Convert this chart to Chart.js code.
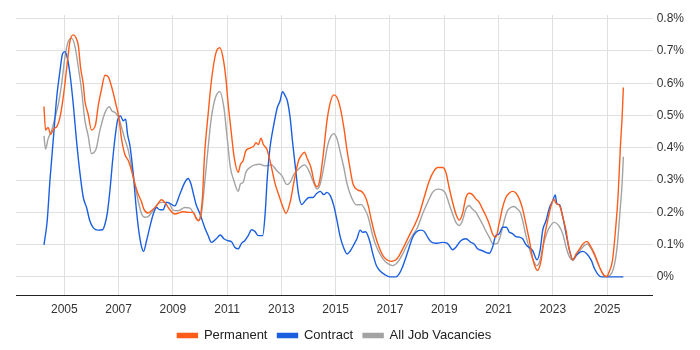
<!DOCTYPE html>
<html lang="en">

<head>
    <meta charset="UTF-8">
    <script src="https://cdn.jsdelivr.net/npm/chart.js@4.4.1/dist/chart.umd.min.js"></script>
    <title>Job Vacancies</title>
    <style>
        body { margin: 0; background: #fff; }
        #wrap { width: 700px; height: 350px; }
    </style>
</head>

<body>
    <div id="wrap"><canvas id="myChart"></canvas></div>
</body>

<script type='text/javascript'>

    // decimal year dates and share of vacancies (%) for each series
    const permDates = [2004.25, 2004.31, 2004.4, 2004.5, 2004.6, 2004.74, 2004.84, 2004.96, 2005.09, 2005.21, 2005.33, 2005.43, 2005.52, 2005.6, 2005.7, 2005.76, 2005.88, 2006.0, 2006.15, 2006.25, 2006.37, 2006.5, 2006.62, 2006.8, 2006.9, 2007.0, 2007.11, 2007.23, 2007.36, 2007.48, 2007.6, 2007.72, 2007.85, 2007.93, 2008.09, 2008.21, 2008.4, 2008.58, 2008.7, 2008.89, 2009.07, 2009.38, 2009.56, 2009.75, 2009.87, 2009.95, 2010.01, 2010.09, 2010.17, 2010.3, 2010.42, 2010.58, 2010.73, 2010.85, 2010.95, 2011.04, 2011.16, 2011.26, 2011.41, 2011.49, 2011.59, 2011.69, 2011.84, 2011.99, 2012.06, 2012.15, 2012.25, 2012.33, 2012.46, 2012.58, 2012.77, 2012.89, 2013.04, 2013.17, 2013.32, 2013.47, 2013.63, 2013.75, 2013.85, 2013.96, 2014.09, 2014.21, 2014.31, 2014.41, 2014.53, 2014.68, 2014.8, 2014.93, 2015.05, 2015.17, 2015.3, 2015.42, 2015.52, 2015.64, 2015.82, 2015.95, 2016.07, 2016.2, 2016.32, 2016.44, 2016.6, 2016.74, 2016.87, 2017.04, 2017.22, 2017.34, 2017.53, 2017.71, 2017.9, 2018.08, 2018.26, 2018.45, 2018.63, 2018.75, 2018.94, 2019.06, 2019.18, 2019.31, 2019.43, 2019.55, 2019.67, 2019.8, 2019.92, 2020.04, 2020.17, 2020.29, 2020.41, 2020.53, 2020.66, 2020.78, 2020.9, 2021.02, 2021.15, 2021.27, 2021.4, 2021.52, 2021.64, 2021.77, 2021.89, 2022.01, 2022.14, 2022.26, 2022.38, 2022.44, 2022.57, 2022.69, 2022.81, 2022.94, 2023.04, 2023.12, 2023.25, 2023.37, 2023.49, 2023.59, 2023.74, 2023.86, 2023.99, 2024.11, 2024.26, 2024.38, 2024.51, 2024.63, 2024.75, 2024.89, 2024.98, 2025.07, 2025.2, 2025.32, 2025.41, 2025.49, 2025.56, 2025.6]
    const permValues = [0.528, 0.455, 0.463, 0.442, 0.458, 0.468, 0.494, 0.556, 0.648, 0.731, 0.75, 0.741, 0.715, 0.648, 0.597, 0.545, 0.504, 0.455, 0.471, 0.53, 0.581, 0.625, 0.62, 0.571, 0.535, 0.499, 0.427, 0.38, 0.36, 0.329, 0.288, 0.257, 0.231, 0.21, 0.198, 0.205, 0.22, 0.239, 0.231, 0.208, 0.195, 0.202, 0.2, 0.2, 0.179, 0.174, 0.185, 0.246, 0.38, 0.504, 0.607, 0.692, 0.71, 0.679, 0.618, 0.535, 0.442, 0.37, 0.324, 0.349, 0.36, 0.391, 0.399, 0.406, 0.416, 0.41, 0.43, 0.411, 0.396, 0.36, 0.288, 0.257, 0.22, 0.197, 0.231, 0.298, 0.36, 0.378, 0.386, 0.365, 0.339, 0.293, 0.279, 0.298, 0.37, 0.484, 0.54, 0.564, 0.556, 0.523, 0.463, 0.391, 0.34, 0.288, 0.269, 0.265, 0.252, 0.221, 0.174, 0.133, 0.092, 0.066, 0.054, 0.048, 0.053, 0.066, 0.097, 0.128, 0.159, 0.195, 0.246, 0.298, 0.329, 0.339, 0.339, 0.324, 0.277, 0.231, 0.195, 0.176, 0.195, 0.246, 0.259, 0.255, 0.241, 0.231, 0.21, 0.19, 0.164, 0.133, 0.123, 0.164, 0.215, 0.246, 0.26, 0.265, 0.26, 0.241, 0.21, 0.164, 0.112, 0.056, 0.025, 0.02, 0.051, 0.123, 0.174, 0.221, 0.241, 0.228, 0.221, 0.185, 0.143, 0.092, 0.053, 0.071, 0.087, 0.102, 0.11, 0.097, 0.076, 0.051, 0.025, 0.004, 0.001, 0.014, 0.051, 0.154, 0.257, 0.401, 0.504, 0.587]

    const contractDates = [2004.25, 2004.37, 2004.47, 2004.6, 2004.72, 2004.84, 2004.93, 2005.02, 2005.11, 2005.21, 2005.33, 2005.45, 2005.58, 2005.7, 2005.82, 2005.94, 2006.07, 2006.25, 2006.41, 2006.5, 2006.58, 2006.68, 2006.78, 2006.87, 2006.96, 2007.07, 2007.17, 2007.26, 2007.33, 2007.42, 2007.54, 2007.66, 2007.76, 2007.85, 2007.92, 2008.03, 2008.15, 2008.28, 2008.4, 2008.52, 2008.64, 2008.77, 2008.89, 2009.07, 2009.26, 2009.44, 2009.56, 2009.66, 2009.75, 2009.85, 2010.0, 2010.17, 2010.3, 2010.42, 2010.6, 2010.75, 2010.88, 2011.04, 2011.16, 2011.28, 2011.41, 2011.53, 2011.65, 2011.78, 2011.9, 2012.02, 2012.15, 2012.31, 2012.4, 2012.48, 2012.58, 2012.7, 2012.85, 2012.95, 2013.04, 2013.14, 2013.22, 2013.32, 2013.42, 2013.53, 2013.63, 2013.75, 2013.88, 2014.02, 2014.16, 2014.28, 2014.43, 2014.56, 2014.68, 2014.8, 2014.93, 2015.05, 2015.17, 2015.3, 2015.42, 2015.54, 2015.67, 2015.79, 2015.9, 2016.0, 2016.1, 2016.25, 2016.37, 2016.5, 2016.62, 2016.81, 2016.99, 2017.22, 2017.34, 2017.47, 2017.59, 2017.71, 2017.83, 2017.96, 2018.14, 2018.26, 2018.39, 2018.51, 2018.69, 2018.94, 2019.12, 2019.31, 2019.43, 2019.61, 2019.8, 2019.98, 2020.1, 2020.23, 2020.41, 2020.66, 2020.78, 2020.9, 2021.02, 2021.15, 2021.29, 2021.4, 2021.5, 2021.64, 2021.77, 2021.89, 2022.01, 2022.14, 2022.26, 2022.42, 2022.53, 2022.63, 2022.75, 2022.88, 2023.0, 2023.09, 2023.15, 2023.25, 2023.37, 2023.49, 2023.62, 2023.74, 2023.86, 2023.99, 2024.11, 2024.26, 2024.42, 2024.54, 2024.67, 2024.79, 2025.0, 2025.3, 2025.6]
    const contractValues = [0.099, 0.174, 0.298, 0.432, 0.556, 0.638, 0.69, 0.698, 0.679, 0.628, 0.535, 0.422, 0.319, 0.246, 0.215, 0.174, 0.152, 0.145, 0.146, 0.164, 0.195, 0.267, 0.36, 0.432, 0.484, 0.499, 0.484, 0.489, 0.442, 0.406, 0.319, 0.205, 0.133, 0.092, 0.079, 0.112, 0.154, 0.195, 0.215, 0.208, 0.208, 0.231, 0.228, 0.22, 0.257, 0.293, 0.305, 0.29, 0.26, 0.226, 0.195, 0.154, 0.128, 0.107, 0.118, 0.13, 0.118, 0.112, 0.109, 0.092, 0.087, 0.104, 0.112, 0.128, 0.146, 0.141, 0.128, 0.128, 0.195, 0.308, 0.401, 0.463, 0.525, 0.545, 0.574, 0.561, 0.545, 0.494, 0.411, 0.329, 0.257, 0.224, 0.236, 0.246, 0.246, 0.257, 0.265, 0.255, 0.262, 0.252, 0.221, 0.174, 0.123, 0.089, 0.071, 0.081, 0.1, 0.12, 0.145, 0.138, 0.14, 0.112, 0.071, 0.035, 0.02, 0.007, 0, 0, 0.009, 0.032, 0.061, 0.092, 0.121, 0.138, 0.145, 0.141, 0.123, 0.109, 0.104, 0.107, 0.104, 0.084, 0.092, 0.112, 0.118, 0.107, 0.102, 0.087, 0.081, 0.073, 0.092, 0.128, 0.133, 0.154, 0.154, 0.138, 0.135, 0.125, 0.123, 0.118, 0.1, 0.09, 0.081, 0.053, 0.081, 0.145, 0.174, 0.215, 0.236, 0.254, 0.226, 0.224, 0.185, 0.133, 0.081, 0.053, 0.066, 0.076, 0.079, 0.071, 0.051, 0.025, 0.007, 0, 0, 0, 0]

    const allDates = [2004.25, 2004.31, 2004.4, 2004.53, 2004.66, 2004.78, 2004.9, 2005.02, 2005.15, 2005.27, 2005.39, 2005.52, 2005.64, 2005.76, 2005.88, 2006.0, 2006.17, 2006.31, 2006.5, 2006.66, 2006.75, 2006.87, 2007.0, 2007.11, 2007.23, 2007.36, 2007.48, 2007.6, 2007.72, 2007.85, 2007.97, 2008.09, 2008.28, 2008.46, 2008.64, 2008.83, 2009.01, 2009.2, 2009.44, 2009.63, 2009.81, 2009.95, 2010.05, 2010.17, 2010.3, 2010.42, 2010.58, 2010.73, 2010.88, 2011.0, 2011.12, 2011.25, 2011.41, 2011.49, 2011.59, 2011.69, 2011.84, 2012.02, 2012.21, 2012.4, 2012.64, 2012.83, 2013.02, 2013.2, 2013.32, 2013.47, 2013.63, 2013.85, 2014.0, 2014.16, 2014.31, 2014.43, 2014.56, 2014.7, 2014.83, 2014.93, 2015.05, 2015.17, 2015.3, 2015.42, 2015.52, 2015.64, 2015.76, 2015.95, 2016.07, 2016.2, 2016.32, 2016.44, 2016.6, 2016.74, 2016.91, 2017.1, 2017.28, 2017.47, 2017.65, 2017.83, 2018.02, 2018.2, 2018.39, 2018.57, 2018.75, 2018.94, 2019.06, 2019.18, 2019.31, 2019.43, 2019.55, 2019.67, 2019.8, 2019.92, 2020.04, 2020.17, 2020.29, 2020.41, 2020.53, 2020.66, 2020.8, 2020.96, 2021.09, 2021.21, 2021.33, 2021.45, 2021.57, 2021.7, 2021.8, 2021.89, 2022.01, 2022.14, 2022.26, 2022.41, 2022.53, 2022.63, 2022.75, 2022.88, 2023.06, 2023.22, 2023.37, 2023.49, 2023.62, 2023.74, 2023.86, 2024.05, 2024.26, 2024.42, 2024.54, 2024.67, 2024.85, 2024.98, 2025.1, 2025.25, 2025.37, 2025.47, 2025.56, 2025.6]
    const allValues = [0.437, 0.396, 0.427, 0.453, 0.494, 0.535, 0.597, 0.679, 0.731, 0.739, 0.715, 0.648, 0.576, 0.484, 0.437, 0.382, 0.396, 0.453, 0.509, 0.527, 0.515, 0.509, 0.494, 0.463, 0.427, 0.391, 0.339, 0.288, 0.236, 0.195, 0.185, 0.187, 0.207, 0.228, 0.231, 0.231, 0.207, 0.205, 0.215, 0.213, 0.19, 0.176, 0.195, 0.288, 0.401, 0.494, 0.558, 0.574, 0.525, 0.432, 0.339, 0.298, 0.265, 0.288, 0.293, 0.324, 0.339, 0.347, 0.349, 0.344, 0.347, 0.329, 0.313, 0.286, 0.293, 0.319, 0.334, 0.347, 0.331, 0.298, 0.272, 0.288, 0.339, 0.406, 0.437, 0.444, 0.427, 0.386, 0.339, 0.288, 0.26, 0.236, 0.223, 0.224, 0.21, 0.185, 0.143, 0.107, 0.076, 0.056, 0.042, 0.035, 0.045, 0.071, 0.102, 0.128, 0.154, 0.195, 0.231, 0.262, 0.272, 0.269, 0.257, 0.226, 0.195, 0.169, 0.159, 0.174, 0.21, 0.221, 0.21, 0.2, 0.182, 0.164, 0.143, 0.123, 0.102, 0.104, 0.133, 0.174, 0.205, 0.215, 0.218, 0.21, 0.2, 0.174, 0.128, 0.087, 0.056, 0.035, 0.051, 0.092, 0.128, 0.154, 0.169, 0.159, 0.133, 0.092, 0.061, 0.051, 0.066, 0.087, 0.102, 0.087, 0.066, 0.04, 0.009, 0.001, 0.004, 0.03, 0.092, 0.195, 0.298, 0.372]

    const yearTicks = [2005, 2007, 2009, 2011, 2013, 2015, 2017, 2019, 2021, 2023, 2025]
    const pctTicks = [0, 0.1, 0.2, 0.3, 0.4, 0.5, 0.6, 0.7, 0.8]

    const toPoints = (xs, ys) => xs.map((x, i) => ({ x: x, y: ys[i] }))

    Chart.defaults.font.family = "'Liberation Sans', Arial, sans-serif"
    Chart.defaults.color = '#333'

    const line = (label, color, pts) => ({
        label: label,
        data: pts,
        borderColor: color,
        backgroundColor: color,
        borderWidth: 1.4,
        pointRadius: 0,
        cubicInterpolationMode: 'monotone'
    })

    var ctx = document.getElementById('myChart').getContext('2d');
    var chart = new Chart(ctx, {
        type: 'line',
        data: {
            datasets: [
                line('Permanent', '#ff5c1a', toPoints(permDates, permValues)),
                line('Contract', '#1a5fe0', toPoints(contractDates, contractValues)),
                line('All Job Vacancies', '#a3a3a3', toPoints(allDates, allValues))
            ]
        },
        options: {
            responsive: true,
            maintainAspectRatio: false,
            animation: false,
            layout: { padding: { left: 16, right: 12, top: 15, bottom: -2 } },
            plugins: {
                tooltip: { enabled: false },
                legend: {
                    position: 'bottom',
                    fullSize: false,
                    labels: { boxWidth: 20, boxHeight: 4, padding: 10, font: { size: 13 }, color: '#222' }
                }
            },
            scales: {
                x: {
                    type: 'linear',
                    min: 2003.22,
                    max: 2026.68,
                    afterBuildTicks: (s) => { s.ticks = yearTicks.map(v => ({ value: v })) },
                    ticks: { callback: (v) => String(v), font: { size: 12 }, color: '#333', maxRotation: 0, padding: 2 },
                    grid: { color: '#e0e0e0', tickColor: 'rgba(0,0,0,0)', tickLength: 5 },
                    border: { color: '#222', width: 1 }
                },
                y: {
                    position: 'right',
                    min: -0.058,
                    max: 0.8115,
                    afterBuildTicks: (s) => { s.ticks = pctTicks.map(v => ({ value: v })) },
                    ticks: { callback: (v) => (Math.round(v * 10) / 10) + '%', font: { size: 12 }, color: '#333', padding: 4 },
                    grid: { color: '#e0e0e0', drawTicks: false },
                    border: { display: false }
                }
            }
        }
    });

</script>

</html>
